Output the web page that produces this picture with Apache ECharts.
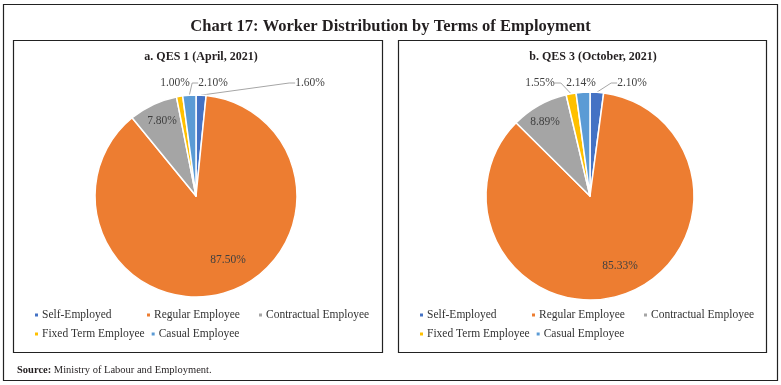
<!DOCTYPE html>
<html><head><meta charset="utf-8">
<script src="https://cdn.jsdelivr.net/npm/echarts@6/dist/echarts.min.js"></script>
<style>html,body{margin:0;padding:0;background:#fff}#c{width:781px;height:385px}</style>
</head><body><div id="c"></div>
<script>
// ---- data ----
const categories = ['Self-Employed', 'Regular Employee', 'Contractual Employee', 'Fixed Term Employee', 'Casual Employee'];
const valuesApril2021 = [1.60, 87.50, 7.80, 1.00, 2.10];
const valuesOctober2021 = [2.10, 85.33, 8.89, 1.55, 2.14];
const panelTitles = ['a. QES 1 (April, 2021)', 'b. QES 3 (October, 2021)'];
const chartTitle = 'Chart 17: Worker Distribution by Terms of Employment';
const sourceText = 'Ministry of Labour and Employment.';

// ---- styles / layout ----
const colors = ['#4472C4', '#ED7D31', '#A5A5A5', '#FFC000', '#5B9BD5'];
const FONT = 'Liberation Serif';
const pies = [
  { center: [196, 196], radius: 101, values: valuesApril2021,
    labelOffsets: [[114, -113], [32, 64], [-34, -75], [-21, -113], [17, -113]],
    lineOn: [true, false, false, false, true] },
  { center: [590, 196], radius: 104, values: valuesOctober2021,
    labelOffsets: [[42, -113], [30, 70], [-45, -74], [-50, -113], [-9, -113]],
    lineOn: [true, false, false, true, false] }
];
const outside = [true, false, false, true, true];

const chart = echarts.init(document.getElementById('c'), null, { renderer: 'canvas' });

const series = pies.map((p, si) => ({
  type: 'pie',
  center: p.center,
  radius: p.radius,
  startAngle: 90,
  clockwise: true,
  avoidLabelOverlap: false,
  animation: false,
  itemStyle: { borderColor: '#fff', borderWidth: 1.5 },
  emphasis: { disabled: true },
  data: categories.map((name, i) => ({
    name: name,
    value: p.values[i],
    itemStyle: { color: colors[i] },
    label: {
      show: true,
      position: outside[i] ? 'outside' : 'inside',
      formatter: p.values[i].toFixed(2) + '%',
      fontFamily: FONT, fontSize: 11.5, color: '#404040'
    },
    labelLine: { show: p.lineOn[i], length: 8, length2: 6, smooth: false,
      lineStyle: { color: '#A6A6A6', width: 1 } }
  })),
  labelLayout: function (params) {
    const off = p.labelOffsets[params.dataIndex];
    return { x: p.center[0] + off[0], y: p.center[1] + off[1], align: 'center', verticalAlign: 'middle' };
  }
}));

const legends = pies.map((p, si) => ({
  data: categories,
  left: si === 0 ? 28 : 413,
  top: 303,
  width: 340,
  orient: 'horizontal',
  itemWidth: 5, itemHeight: 5, itemGap: 5,
  icon: 'rect',
  selectedMode: false,
  textStyle: { fontFamily: FONT, fontSize: 11.5, color: '#333', width: 98, lineHeight: 14, padding: [0, 0, 0, -2] }
}));

chart.setOption({
  animation: false,
  color: colors,
  title: [
    { text: chartTitle, left: 'center', top: 13,
      textStyle: { fontFamily: FONT, fontSize: 16.5, fontWeight: 'bold', color: '#231f20' } },
    { text: panelTitles[0], left: 196, textAlign: 'center', top: 46,
      textStyle: { fontFamily: FONT, fontSize: 12, fontWeight: 'bold', color: '#231f20' } },
    { text: panelTitles[1], left: 588, textAlign: 'center', top: 46,
      textStyle: { fontFamily: FONT, fontSize: 12, fontWeight: 'bold', color: '#231f20' } },
    { text: '{b|Source:} ' + sourceText, left: 12, top: 360,
      textStyle: { fontFamily: FONT, fontSize: 10.5, fontWeight: 'normal', color: '#231f20',
        rich: { b: { fontFamily: FONT, fontSize: 10.5, fontWeight: 'bold', color: '#231f20' } } } }
  ],
  legend: legends,
  graphic: [
    { type: 'rect', silent: true, shape: { x: 3.5, y: 4.5, width: 774, height: 376 },
      style: { fill: 'none', stroke: '#222', lineWidth: 1.2 } },
    { type: 'rect', silent: true, shape: { x: 13.5, y: 40.5, width: 369, height: 312 },
      style: { fill: 'none', stroke: '#222', lineWidth: 1.2 } },
    { type: 'rect', silent: true, shape: { x: 398.5, y: 40.5, width: 368, height: 312 },
      style: { fill: 'none', stroke: '#222', lineWidth: 1.2 } }
  ],
  series: series
});
</script>
</body></html>
